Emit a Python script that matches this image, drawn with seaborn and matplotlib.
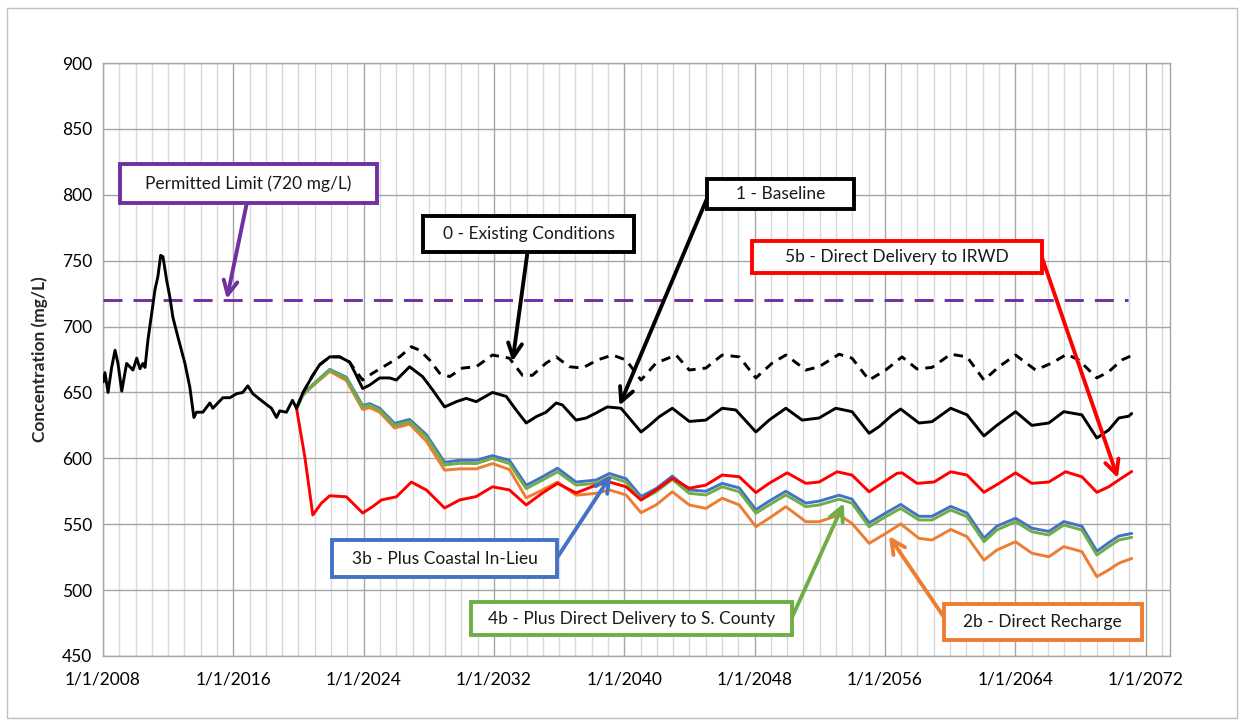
import numpy as np
import pandas as pd
import matplotlib
matplotlib.use("Agg")
import matplotlib.pyplot as plt
import seaborn as sns
from matplotlib.patches import Rectangle
from matplotlib.ticker import MultipleLocator, FuncFormatter

# ---------------------------------------------------------------------------
# Data
# ---------------------------------------------------------------------------
hist_years = [2008.02, 2008.12, 2008.31, 2008.53, 2008.74, 2008.92, 2009.15, 2009.45,
              2009.84, 2010.07, 2010.27, 2010.45, 2010.58, 2010.76, 2010.99, 2011.19,
              2011.37, 2011.54, 2011.68, 2011.91, 2012.11, 2012.29, 2012.60, 2013.03,
              2013.33, 2013.58, 2013.74, 2014.13, 2014.56, 2014.74, 2015.36, 2015.79,
              2016.20, 2016.58, 2016.89, 2017.20, 2017.81, 2018.34, 2018.65, 2018.85,
              2019.26, 2019.63, 2019.88]
hist_vals = [658, 665, 650, 669, 682, 672, 651, 672,
             667, 676, 668, 672, 669, 690, 710, 728,
             738, 754, 753, 735, 722, 707, 692, 672,
             654, 631, 635, 635, 642, 638, 646, 646,
             649, 650, 655, 649, 643, 638, 631, 636,
             635, 644, 638]

base_years = [2019.88, 2020.26, 2020.88, 2021.30, 2021.92, 2022.53, 2023.14, 2023.55,
              2023.94, 2024.37, 2024.98, 2025.60, 2026.01, 2026.82, 2027.62, 2028.23,
              2028.97, 2029.69, 2030.30, 2030.91, 2031.91, 2032.75, 2033.36, 2033.98,
              2034.59, 2035.20, 2035.82, 2036.20, 2037.04, 2037.66, 2038.27, 2038.96,
              2039.80, 2041.03, 2041.54, 2042.15, 2042.95, 2043.99, 2045.01, 2046.01,
              2046.85, 2048.08, 2048.89, 2049.92, 2050.92, 2051.96, 2052.98, 2053.98,
              2055.03, 2055.64, 2056.44, 2056.97, 2058.09, 2058.89, 2060.04, 2061.04,
              2062.08, 2062.87, 2064.02, 2065.02, 2066.06, 2066.98, 2068.09, 2069.01,
              2069.74, 2070.36, 2070.97, 2071.15]
base_vals = [638, 649.5, 663, 671, 677, 677, 673, 663,
             653, 655.6, 661, 661, 659.4, 669.5, 662, 652,
             639, 643, 645.5, 643, 650, 647, 636.7, 626.8,
             631.6, 635, 642, 640.5, 629, 630.6, 634.4, 639,
             638, 620, 625, 631.6, 638, 628, 629, 638,
             636.7, 620, 629, 638, 629, 630.6, 638, 635.4,
             619, 624, 632.8, 637.4, 626.8, 627.8, 638, 633,
             617, 625, 635.4, 625, 626.8, 635.4, 633, 615.4,
             621.5, 630.6, 632, 634]

exist_years = [2019.88, 2020.26, 2020.88, 2021.30, 2021.92, 2022.53, 2023.14, 2023.33,
               2023.94, 2024.55, 2025.39, 2026.21, 2026.93, 2027.44, 2028.05, 2028.66,
               2029.28, 2030.07, 2030.91, 2031.91, 2032.95, 2033.75, 2034.36, 2035.20,
               2035.82, 2036.63, 2037.43, 2038.35, 2039.27, 2040.11, 2041.03, 2041.95,
               2043.18, 2043.99, 2045.01, 2046.01, 2047.06, 2048.08, 2049.08, 2049.92,
               2051.15, 2051.96, 2053.19, 2053.98, 2055.03, 2056.05, 2057.05, 2057.97,
               2058.89, 2060.04, 2061.04, 2062.08, 2063.00, 2064.02, 2065.25, 2066.25,
               2067.17, 2067.90, 2069.01, 2069.74, 2070.54, 2071.15]
exist_vals = [638, 649.5, 663, 671, 677, 677, 673, 669.5,
              659.4, 664.6, 670.8, 677, 684.7, 682, 674.6, 664.6,
              662, 668.5, 669.5, 678.4, 676, 663, 663, 672.3,
              677, 669.5, 668.5, 674.6, 678.4, 674.6, 659.4, 672.3,
              678.4, 667, 668.5, 678.4, 677, 661, 672.3, 678.4,
              667, 669.5, 679, 676, 659.4, 667, 677, 667.8,
              669, 679, 677, 659.4, 669.5, 678.4, 667, 672.3,
              679, 674.6, 661, 665.7, 674.6, 678]

red_years = [2019.88, 2020.39, 2020.88, 2021.41, 2021.92, 2022.94, 2023.94, 2024.55,
             2025.09, 2026.01, 2026.93, 2027.85, 2028.97, 2029.89, 2030.91, 2031.91,
             2032.95, 2033.98, 2034.98, 2035.90, 2037.04, 2038.27, 2039.09, 2040.11,
             2041.03, 2041.95, 2042.95, 2043.99, 2045.01, 2046.01, 2047.06, 2048.08,
             2048.89, 2050.00, 2051.15, 2051.96, 2053.06, 2053.98, 2055.03, 2055.82,
             2056.74, 2057.05, 2057.97, 2059.01, 2060.04, 2061.04, 2062.08, 2063.00,
             2064.02, 2065.02, 2066.06, 2067.09, 2068.09, 2069.01, 2069.74, 2070.36,
             2071.15]
red_vals = [638, 601, 557, 566, 571.6, 570.8, 558.5, 563.3,
            568.4, 570.8, 582, 576, 562.3, 568.4, 571, 578.4,
            576, 564.6, 573.7, 581, 573.7, 579.7, 582, 578.4,
            568.4, 576, 584.8, 577.3, 579.7, 587.3, 586, 574,
            581, 589, 581, 582, 589.8, 587.3, 574.6, 581,
            588.6, 589, 581, 582, 589.8, 587.3, 574.2, 581,
            589, 581, 582, 589.8, 586, 574.2, 578.4, 583.6,
            590]

# 2b, 3b and 4b share the same time steps
alt_years = [2019.88, 2020.27, 2020.88, 2021.92, 2022.94, 2023.94, 2024.37, 2024.98,
             2025.90, 2026.82, 2027.85, 2028.97, 2029.89, 2030.91, 2031.91, 2032.95,
             2033.98, 2034.98, 2035.90, 2037.04, 2038.27, 2039.09, 2040.11, 2041.03,
             2041.95, 2042.95, 2043.99, 2045.01, 2046.01, 2047.06, 2048.08, 2048.89,
             2049.92, 2051.15, 2051.96, 2053.19, 2053.98, 2055.03, 2056.05, 2056.97,
             2058.09, 2058.89, 2060.04, 2061.04, 2062.08, 2062.87, 2064.02, 2065.02,
             2066.06, 2066.98, 2068.09, 2069.01, 2069.74, 2070.36, 2071.15]
green_vals = [638, 648, 655.6, 667, 660.7, 639, 640.5, 636.7,
              625, 628, 616.4, 594.9, 596.2, 596, 600, 596,
              577, 583.5, 589.8, 579.7, 581, 586, 582, 568.4,
              574.6, 584, 573.4, 572.2, 578.4, 574.6, 558.3, 564.6,
              572.2, 563.3, 564.6, 569, 566, 548.1, 555.7, 562,
              553.2, 553.2, 560.8, 555.7, 536.7, 545.6, 551.9, 544.3,
              541.8, 549.4, 545.6, 526.6, 533, 538, 540]
blue_vals = [638, 648, 656, 667.5, 661.5, 640, 641.5, 638,
             626.5, 629.5, 618, 597, 598.5, 598.5, 602, 598.5,
             579.5, 586, 592.5, 582, 583.5, 588.5, 584.5, 571,
             577, 586.5, 576, 575, 581, 577.5, 561, 567.5,
             575, 566, 567.5, 572, 569, 551, 558.5, 565,
             556, 556, 563.5, 558.5, 539.5, 548.5, 554.5, 547,
             544.5, 552, 548.5, 529.5, 536, 541, 543]
orange_vals = [638, 648, 655, 666, 659, 637, 638.5, 635,
               623, 626, 613, 591, 592, 592, 596, 591.5,
               570, 576, 582, 572, 573.4, 576, 572.2, 558.7,
               564.6, 574.6, 564.6, 562, 569.7, 564.6, 548.1, 554.5,
               563.3, 551.9, 551.9, 557, 550.6, 535.5, 543, 550.2,
               539.3, 538, 546, 540.6, 522.8, 530.4, 536.7, 528,
               525.3, 533, 529.2, 510.2, 515.3, 520.4, 524]

limit_years = [2008.0, 2070.9]
limit_vals = [720, 720]

# ---------------------------------------------------------------------------
# Style
# ---------------------------------------------------------------------------
sns.set_style("white")
plt.rcParams["font.family"] = ["Lato", "DejaVu Sans"]

C_BLACK = "#000000"
C_RED = "#FF0000"
C_BLUE = "#4472C4"
C_GREEN = "#70AD47"
C_ORANGE = "#ED7D31"
C_PURPLE = "#7030A0"

fig = plt.figure(figsize=(12.44, 7.25), dpi=100)
ax = fig.add_axes([0.0828, 0.0952, 0.8577, 0.8179])

LW = 2.1


def draw(x, y, color, z, dash=None):
    sns.lineplot(x=np.array(x), y=np.array(y), ax=ax, color=color, linewidth=LW,
                 zorder=z, sort=False, estimator=None)
    if dash is not None:
        ax.lines[-1].set_dashes(dash)


draw(limit_years, limit_vals, C_PURPLE, 3, dash=[6.5, 3.8])
draw(alt_years, orange_vals, C_ORANGE, 4)
draw(alt_years, blue_vals, C_BLUE, 5)
draw(alt_years, green_vals, C_GREEN, 6)
draw(red_years, red_vals, C_RED, 7)
draw(exist_years, exist_vals, C_BLACK, 8, dash=[3.2, 2.4])
draw(base_years, base_vals, C_BLACK, 9)
draw(hist_years, hist_vals, C_BLACK, 10)

# axes / grid
ax.set_xlim(2008, 2073.5)
ax.set_ylim(450, 900)
ax.xaxis.set_major_locator(MultipleLocator(8))
ax.xaxis.set_minor_locator(MultipleLocator(1))
ax.yaxis.set_major_locator(MultipleLocator(50))
ax.xaxis.set_major_formatter(FuncFormatter(lambda v, p: f"1/1/{int(round(v))}"))
ax.grid(which="major", axis="both", color="#a6a6a6", linewidth=1.0, zorder=0)
ax.grid(which="minor", axis="x", color="#d9d9d9", linewidth=1.0, zorder=0)
ax.set_axisbelow(True)
for s in ax.spines.values():
    s.set_color("#a6a6a6")
    s.set_linewidth(1.0)
ax.tick_params(axis="both", which="both", length=0, labelsize=12.5, colors="#000000")
ax.tick_params(axis="x", pad=11)
ax.tick_params(axis="y", pad=8)
ax.set_xlabel("")
ax.set_ylabel("Concentration (mg/L)", fontsize=12.5, fontweight="bold", labelpad=10)

# ---------------------------------------------------------------------------
# Callout boxes and arrows
# ---------------------------------------------------------------------------
labels = ["Permitted Limit (720 mg/L)", "0 - Existing Conditions", "1 - Baseline",
          "5b - Direct Delivery to IRWD", "3b - Plus Coastal In-Lieu",
          "4b - Plus Direct Delivery to S. County", "2b - Direct Recharge"]
label_colors = [C_PURPLE, C_BLACK, C_BLACK, C_RED, C_BLUE, C_GREEN, C_ORANGE]
# box extents: x0, x1, y0, y1 (data units)
boxes = [(2009.04, 2024.80, 793.8, 823.4),
         (2027.62, 2040.62, 756.6, 783.9),
         (2045.09, 2054.11, 789.2, 812.0),
         (2047.85, 2065.63, 740.6, 764.9),
         (2022.04, 2035.90, 509.9, 538.0),
         (2030.62, 2050.31, 465.9, 490.9),
         (2059.62, 2071.76, 462.1, 489.4)]
arrow_from = [(2016.83, 793.8), (2034.06, 756.6), (2045.09, 797.5), (2065.63, 752.8),
              (2035.90, 525.0), (2050.31, 479.6), (2059.62, 479.6)]
arrow_to = [(2015.60, 721.0), (2033.14, 673.5), (2039.70, 640.0), (2070.30, 585.0),
            (2039.21, 587.5), (2053.48, 566.0), (2056.25, 541.0)]

for text, col, (x0, x1, y0, y1), p0, p1 in zip(labels, label_colors, boxes,
                                                arrow_from, arrow_to):
    ax.annotate("", xy=p1, xytext=p0, zorder=20,
                arrowprops=dict(arrowstyle="->,head_length=1.0,head_width=0.5",
                                color=col, lw=2.8, shrinkA=0, shrinkB=0))
    ax.add_patch(Rectangle((x0, y0), x1 - x0, y1 - y0, facecolor="white",
                           edgecolor=col, linewidth=2.8, zorder=21))
    ax.text((x0 + x1) / 2, (y0 + y1) / 2, text, ha="center", va="center",
            fontsize=12.5, color="#1a1a1a", zorder=22)

# outer frame of the chart area
fig.patches.append(Rectangle((0.006, 0.01), 0.988, 0.979, transform=fig.transFigure,
                             fill=False, edgecolor="#bfbfbf", linewidth=1.0))

fig.savefig("out.png", dpi=100)
